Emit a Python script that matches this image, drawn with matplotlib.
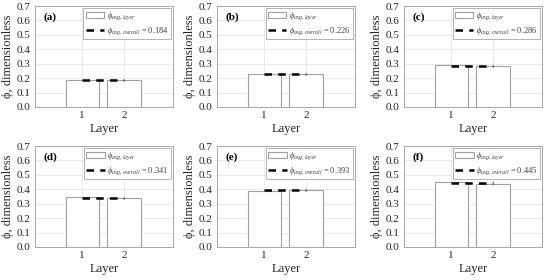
import matplotlib
matplotlib.use("Agg")
import matplotlib.pyplot as plt
from matplotlib.patches import Patch
from matplotlib.lines import Line2D

plt.rcParams['font.family'] = ['Liberation Serif', 'DejaVu Serif']
plt.rcParams['mathtext.fontset'] = 'custom'
plt.rcParams['mathtext.rm'] = 'Liberation Serif'
plt.rcParams['mathtext.it'] = 'Liberation Serif:italic'

panels = ['(a)', '(b)', '(c)', '(d)', '(e)', '(f)']
layers = [1, 2]
layer_vals = [
    [0.187, 0.184],
    [0.226, 0.227],
    [0.292, 0.283],
    [0.344, 0.338],
    [0.388, 0.397],
    [0.452, 0.440],
]
overall_vals = [0.184, 0.226, 0.286, 0.341, 0.393, 0.445]
yticks = [0.0, 0.1, 0.2, 0.3, 0.4, 0.5, 0.6, 0.7]

fig = plt.figure(figsize=(5.5, 2.8), dpi=100)
lefts = [35/550, 217/550, 404/550]
bottoms = [1 - 107/280, 1 - 247/280]
w = 138/550
h = 101/280

for i in range(6):
    r, c = divmod(i, 3)
    ax = fig.add_axes([lefts[c], bottoms[r], w, h])
    ax.bar(layers, layer_vals[i], width=0.8, color='white', edgecolor='#a0a0a0',
           linewidth=0.8, zorder=2)
    ax.plot(layers, [overall_vals[i]] * 2, color='black', linestyle=(0, (3, 2.5)),
            linewidth=1.8, zorder=3)
    ax.set_xlim(-0.13, 3.17)
    ax.set_ylim(0, 0.7)
    ax.set_xticks(layers)
    ax.set_yticks(yticks)
    ax.set_yticklabels([f'{v:.1f}' for v in yticks])
    ax.tick_params(axis='both', labelsize=8, length=0, pad=3, colors='#262626')
    ax.grid(True, color='#e6e6e6', linewidth=0.6, zorder=0)
    ax.set_axisbelow(True)
    for s in ax.spines.values():
        s.set_color('#a8a8a8')
        s.set_linewidth(0.7)
    ax.set_xlabel('Layer', fontsize=9, labelpad=2, color='#262626')
    ax.set_ylabel('ϕ, dimensionless', fontsize=9, labelpad=2, color='#262626')
    ax.text(0.06, 0.94, panels[i], transform=ax.transAxes, fontsize=8,
            fontweight='bold', va='top', ha='left')
    handles = [Patch(facecolor='white', edgecolor='#a0a0a0', linewidth=0.8),
               Line2D([0], [0], color='black', linestyle=(0, (3, 2.5)), linewidth=1.8)]
    labels = [r'$\phi_{avg,layer}$', r'$\phi_{avg,overall}$ = ' + f'{overall_vals[i]:.3f}']
    leg = ax.legend(handles, labels, loc='upper right', fontsize=6, frameon=True,
                    fancybox=False, edgecolor='#a8a8a8', framealpha=1,
                    handlelength=2.2, handletextpad=0.3, borderpad=0.3,
                    labelspacing=0.3, borderaxespad=0.25)
    leg.get_frame().set_linewidth(0.6)
    for t in leg.get_texts():
        t.set_color('#404040')

fig.savefig('out.png', dpi=100)
